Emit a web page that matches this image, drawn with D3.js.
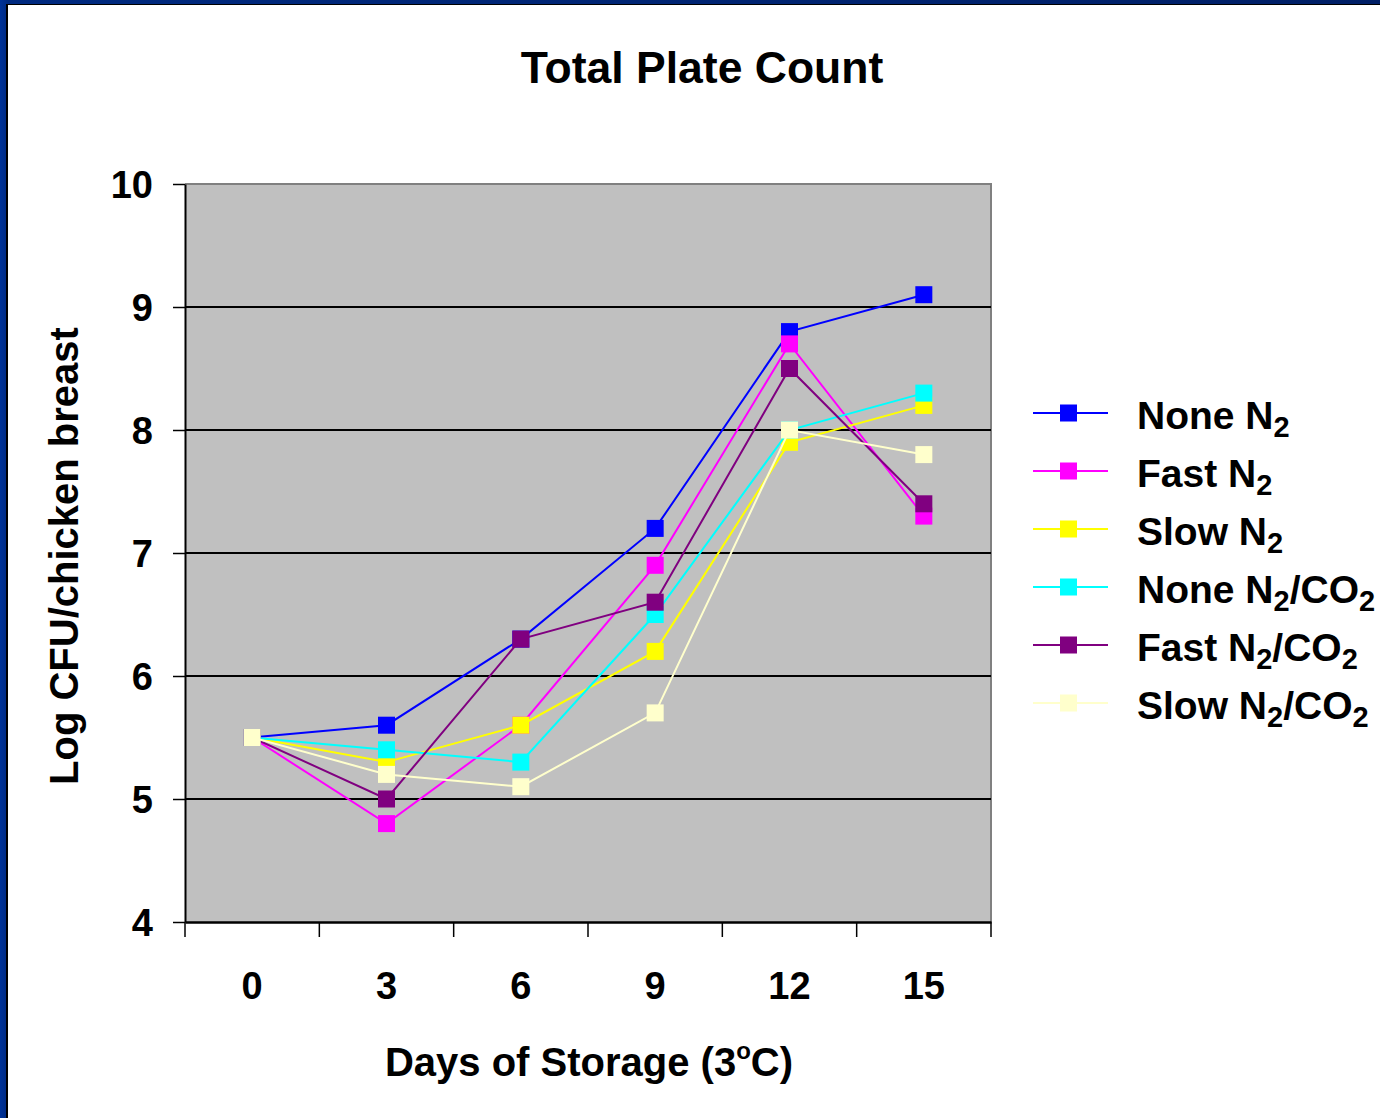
<!DOCTYPE html>
<html>
<head>
<meta charset="utf-8">
<script src="https://cdn.jsdelivr.net/npm/d3@7"></script>
<style>
  html, body { margin: 0; padding: 0; }
  body { width: 1380px; height: 1118px; overflow: hidden;
         background: linear-gradient(90deg, #003399 0px, #002a80 8px, #001f66 100%); }
  #frame { position: absolute; left: 6px; top: 4px; width: 1374px; height: 1114px;
           background: #fff; border-left: 2px solid #000; border-top: 1px solid #000; box-sizing: border-box; }
  svg { position: absolute; left: 0; top: 0; }
  text { font-family: "Liberation Sans", Arial, sans-serif; font-weight: bold; fill: #000; }
</style>
</head>
<body>
<div id="frame"></div>
<svg id="chart" width="1380" height="1118"></svg>
<script>
// total plate count chart

var days = [0, 3, 6, 9, 12, 15];
var yTicks = [4, 5, 6, 7, 8, 9, 10];

var seriesNames = ["None N2", "Fast N2", "Slow N2", "None N2/CO2", "Fast N2/CO2", "Slow N2/CO2"];
var seriesColors = ["#0000ff", "#ff00ff", "#ffff00", "#00ffff", "#800080", "#ffffcc"];

var noneN2     = [5.5, 5.6, 6.3, 7.2, 8.8, 9.1];
var fastN2     = [5.5, 4.8, 5.6, 6.9, 8.7, 7.3];
var slowN2     = [5.5, 5.3, 5.6, 6.2, 7.9, 8.2];
var noneN2CO2  = [5.5, 5.4, 5.3, 6.5, 8.0, 8.3];
var fastN2CO2  = [5.5, 5.0, 6.3, 6.6, 8.5, 7.4];
var slowN2CO2  = [5.5, 5.2, 5.1, 5.7, 8.0, 7.8];

var seriesValues = [noneN2, fastN2, slowN2, noneN2CO2, fastN2CO2, slowN2CO2];

var svg = d3.select("#chart");
var plot = {left: 185, right: 991, top: 184, bottom: 922};

var x = d3.scaleBand().domain(days).range([plot.left, plot.right]).padding(0);
var y = d3.scaleLinear().domain([4, 10]).range([plot.bottom, plot.top]);
var cx = function (d) { return x(d) + x.bandwidth() / 2; };

// label with subscript 2's
function richText(sel, str, big, small, shift) {
	var back = 0;
	str.split(/(2)/).forEach(function (part) {
		if (part === "") return;
		if (part === "2") {
			sel.append("tspan").attr("font-size", small).attr("dy", shift).text("2");
			back = -shift;
		} else {
			sel.append("tspan").attr("font-size", big).attr("dy", back).text(part);
			back = 0;
		}
	});
}

// title
svg.append("text").attr("x", 702).attr("y", 83).attr("text-anchor", "middle")
	.attr("font-size", 44.5).text("Total Plate Count");

// plot area
svg.append("rect").attr("x", plot.left).attr("y", plot.top)
	.attr("width", plot.right - plot.left).attr("height", plot.bottom - plot.top)
	.attr("fill", "#c0c0c0");
svg.append("path")
	.attr("d", "M" + plot.left + "," + plot.top + "H" + plot.right + "V" + plot.bottom)
	.attr("fill", "none").attr("stroke", "#808080").attr("stroke-width", 2);

// gridlines
svg.append("g").selectAll("line").data(yTicks.filter(function (t) { return t > 4 && t < 10; }))
	.enter().append("line")
	.attr("x1", plot.left).attr("x2", plot.right)
	.attr("y1", function (d) { return y(d); }).attr("y2", function (d) { return y(d); })
	.attr("stroke", "#000").attr("stroke-width", 2);

// y axis
var yAxis = svg.append("g").attr("transform", "translate(" + plot.left + ",0)")
	.call(d3.axisLeft(y).tickValues(yTicks).tickFormat(d3.format("d"))
		.tickSize(12).tickPadding(20).tickSizeOuter(0));
yAxis.select(".domain").attr("stroke", "#000").attr("stroke-width", 2);
yAxis.selectAll(".tick line").attr("stroke", "#000").attr("stroke-width", 1.5);
yAxis.selectAll(".tick text").attr("font-size", 38).attr("font-family", "Liberation Sans, Arial")
	.attr("font-weight", "bold").attr("fill", "#000").attr("dy", "0.36em");

// x axis
var xAxis = svg.append("g").attr("transform", "translate(0," + plot.bottom + ")")
	.call(d3.axisBottom(x).tickSize(0).tickPadding(50).tickSizeOuter(0));
xAxis.select(".domain").attr("stroke", "#000").attr("stroke-width", 2.5);
xAxis.selectAll(".tick text").attr("font-size", 38).attr("font-family", "Liberation Sans, Arial")
	.attr("font-weight", "bold").attr("fill", "#000");
var bounds = days.map(function (d) { return x(d); }).concat([plot.right]);
xAxis.selectAll("line.bnd").data(bounds).enter().append("line").attr("class", "bnd")
	.attr("x1", function (d) { return d; }).attr("x2", function (d) { return d; })
	.attr("y1", 0).attr("y2", 15).attr("stroke", "#000").attr("stroke-width", 1.5);

// axis titles
var xt = svg.append("text").attr("x", 589).attr("y", 1076).attr("text-anchor", "middle").attr("font-size", 40);
xt.append("tspan").text("Days of Storage (3");
xt.append("tspan").attr("font-size", 24).attr("dy", -17).text("o");
xt.append("tspan").attr("dy", 17).text("C)");

svg.append("text").attr("transform", "translate(78,556) rotate(-90)")
	.attr("text-anchor", "middle").attr("font-size", 40).text("Log CFU/chicken breast");

// series
var line = d3.line().x(function (d, i) { return cx(days[i]); }).y(function (d) { return y(d); });

seriesValues.forEach(function (vals, s) {
	var g = svg.append("g");
	g.append("path").attr("d", line(vals)).attr("fill", "none")
		.attr("stroke", seriesColors[s]).attr("stroke-width", 2);
	g.selectAll("rect").data(vals).enter().append("rect")
		.attr("x", function (d, i) { return cx(days[i]) - 8.5; })
		.attr("y", function (d) { return y(d) - 8.5; })
		.attr("width", 17).attr("height", 17)
		.attr("fill", seriesColors[s]);
});

// legend
var legend = svg.append("g").attr("transform", "translate(1033,413)");
var rows = legend.selectAll("g").data(seriesNames).enter().append("g")
	.attr("transform", function (d, i) { return "translate(0," + (i * 58) + ")"; });
rows.append("line").attr("x1", 0).attr("x2", 75).attr("y1", 0).attr("y2", 0)
	.attr("stroke", function (d, i) { return seriesColors[i]; }).attr("stroke-width", 2);
rows.append("rect").attr("x", 27).attr("y", -8.5).attr("width", 17).attr("height", 17)
	.attr("fill", function (d, i) { return seriesColors[i]; });
rows.append("text").attr("x", 104).attr("y", 16).attr("font-size", 39)
	.each(function (d) { richText(d3.select(this), d, 39, 29, 8); });
</script>
</body>
</html>
